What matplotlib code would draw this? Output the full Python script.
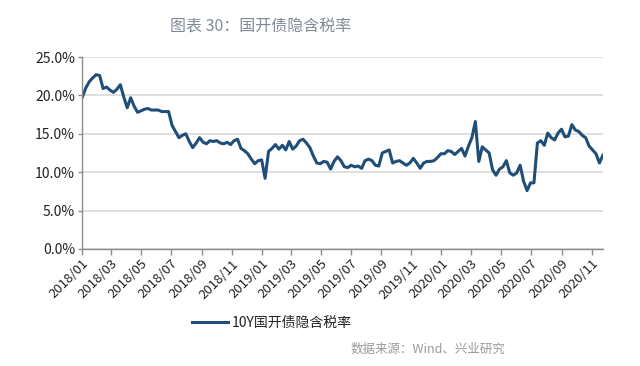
import matplotlib
matplotlib.use("Agg")
import matplotlib.pyplot as plt
import matplotlib.dates as mdates
import matplotlib.ticker as mticker
import pandas as pd
import numpy as np

plt.rcParams['font.family'] = ['Noto Sans CJK SC', 'DejaVu Sans']

title = "图表 30：国开债隐含税率"
series_name = "10Y国开债隐含税率"
source = "数据来源：Wind、兴业研究"

start_date = "2018-01-02"
# weekly readings (%) of implied tax rate
values = [
    19.8, 21.0, 21.8, 22.3, 22.7, 22.6, 20.9, 21.1, 20.7, 20.4,
    20.8, 21.4, 19.8, 18.4, 19.7, 18.6, 17.8, 18.0, 18.2, 18.3,
    18.1, 18.1, 18.1, 17.9, 17.9, 17.9, 16.1, 15.3, 14.5, 14.8,
    15.0, 14.0, 13.2, 13.8, 14.5, 13.9, 13.7, 14.1, 14.0, 14.1,
    13.8, 13.7, 13.9, 13.6, 14.1, 14.3, 13.1, 12.8, 12.4, 11.7,
    11.1, 11.5, 11.6, 9.2, 12.7, 13.1, 13.6, 13.0, 13.5, 12.9,
    14.0, 13.0, 13.4, 14.1, 14.3, 13.8, 13.2, 12.1, 11.2, 11.1,
    11.4, 11.3, 10.4, 11.4, 12.0, 11.5, 10.7, 10.6, 10.9, 10.7,
    10.8, 10.5, 11.5, 11.7, 11.5, 10.9, 10.8, 12.5, 12.7, 12.9,
    11.2, 11.4, 11.5, 11.2, 10.9, 11.2, 11.8, 11.2, 10.5, 11.2,
    11.4, 11.4, 11.5, 11.9, 12.4, 12.4, 12.8, 12.7, 12.3, 12.7,
    13.1, 12.1, 13.4, 14.5, 16.6, 11.4, 13.3, 12.9, 12.5, 10.3,
    9.6, 10.4, 10.7, 11.5, 9.9, 9.6, 9.9, 10.9, 8.8, 7.6,
    8.6, 8.6, 13.8, 14.1, 13.5, 15.1, 14.5, 14.2, 15.1, 15.6,
    14.6, 14.7, 16.2, 15.5, 15.3, 14.8, 14.5, 13.4, 12.9, 12.4,
    11.2, 12.2,
]
y_ticks = [0, 5, 10, 15, 20, 25]
x_tick_labels = ["2018/01", "2018/03", "2018/05", "2018/07", "2018/09", "2018/11",
                 "2019/01", "2019/03", "2019/05", "2019/07", "2019/09", "2019/11",
                 "2020/01", "2020/03", "2020/05", "2020/07", "2020/09", "2020/11"]

dates = pd.date_range(start_date, periods=len(values), freq="7D")
x_ticks = pd.to_datetime([s.replace("/", "-") + "-01" for s in x_tick_labels])

fig = plt.figure(figsize=(6.4, 3.66), dpi=100)
ax = fig.add_axes([0.128, 0.320, 0.814, 0.524])

line_color = "#1f4e79"
ax.plot(dates, values, color=line_color, lw=2.2, label=series_name)

ax.set_ylim(0, 25)
ax.set_yticks(y_ticks)
ax.yaxis.set_major_formatter(mticker.FuncFormatter(lambda v, p: f"{v:.1f}%"))
ax.set_xlim(pd.Timestamp("2018-01-01"), dates[-1])
ax.set_xticks(x_ticks)
ax.set_xticklabels(x_tick_labels, rotation=45, ha="right", rotation_mode="anchor")

ax.grid(axis="y", color="#d9d9d9", lw=1.2)
ax.set_axisbelow(True)
for s in ["top", "right"]:
    ax.spines[s].set_visible(False)
for s in ["left", "bottom"]:
    ax.spines[s].set_color("#8c8c8c")
    ax.spines[s].set_linewidth(1.0)
ax.tick_params(axis="x", length=4, width=1, color="#8c8c8c", labelsize=9.5,
               labelcolor="#222222", pad=2)
ax.tick_params(axis="y", length=3, width=1, color="#8c8c8c", labelsize=10,
               labelcolor="#222222", pad=2)

fig.text(0.408, 0.93, title, ha="center", va="center", fontsize=11.5,
         color="#7f8b98")

leg = fig.legend(loc="center", bbox_to_anchor=(0.425, 0.118), frameon=False,
                 fontsize=10, handlelength=2.6, handletextpad=0.3)
for t in leg.get_texts():
    t.set_color("#222222")

fig.text(0.79, 0.047, source, ha="right", va="center", fontsize=9,
         color="#9a9a9a")

fig.savefig("out.png", dpi=100)
